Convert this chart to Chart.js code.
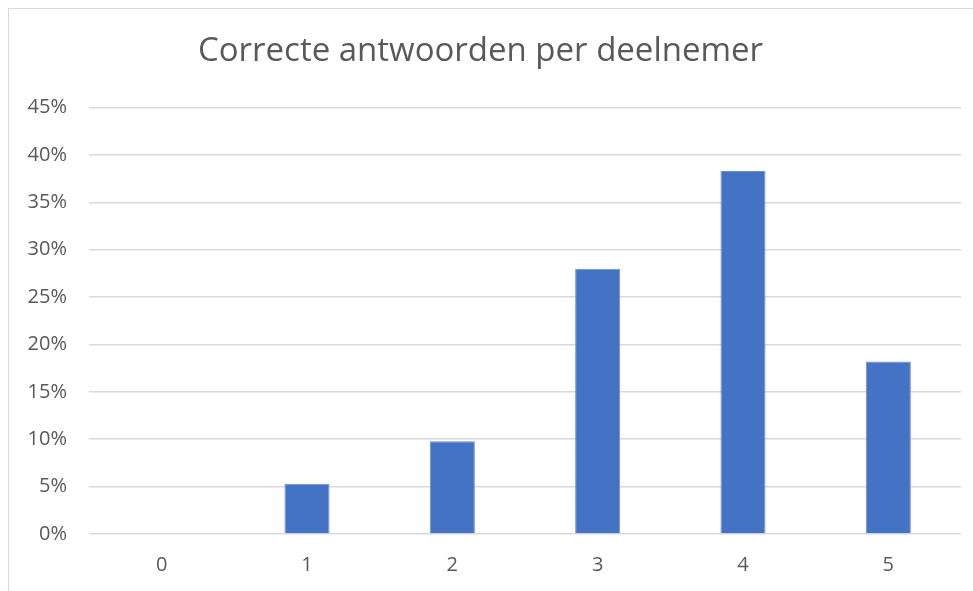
<!DOCTYPE html>
<html>
<head>
<meta charset="utf-8">
<script src="https://cdn.jsdelivr.net/npm/chart.js@4/dist/chart.umd.min.js"></script>
<style>
  html, body { margin: 0; padding: 0; background: #fff; }
  #frame { position: absolute; left: 8px; top: 8px; width: 980px; height: 600px; border: 1px solid #d9d9d9; box-sizing: border-box; }
  #wrap { position: absolute; left: 0; top: 0; width: 973px; height: 591px; }
</style>
</head>
<body>
<div id="frame"></div>
<div id="wrap"><canvas id="chart"></canvas></div>
<script>
const categories = ['0', '1', '2', '3', '4', '5'];
const percentages = [0, 5.3, 9.8, 28.0, 38.3, 18.2];
const yTicks = [0, 5, 10, 15, 20, 25, 30, 35, 40, 45];

const textColor = '#595959';
const fontFamily = '"Open Sans", "Noto Sans", sans-serif';

const ctx = document.getElementById('chart').getContext('2d');
new Chart(ctx, {
    type: 'bar',
    data: {
        labels: categories,
        datasets: [{
            label: 'Correcte antwoorden',
            data: percentages,
            backgroundColor: '#4472c4',
            borderColor: '#6b8fd0',
            borderWidth: 1,
            barPercentage: 0.31,
            categoryPercentage: 1
        }]
    },
    options: {
        responsive: true,
        maintainAspectRatio: false,
        animation: false,
        layout: { padding: { top: 14, right: 12, left: 0, bottom: 3 } },
        plugins: {
            legend: { display: false },
            tooltip: { enabled: false },
            title: {
                display: true,
                text: 'Correcte antwoorden per deelnemer',
                color: textColor,
                font: { family: fontFamily, size: 33, weight: 'normal' },
                padding: { top: 18, bottom: 36 }
            }
        },
        scales: {
            x: {
                grid: { display: false },
                border: { display: false },
                ticks: { color: textColor, font: { family: fontFamily, size: 20 }, padding: 11 }
            },
            y: {
                min: 0,
                max: 45,
                afterFit: function(scale) { scale.width = 89; },
                afterBuildTicks: function(scale) { scale.ticks = yTicks.map(v => ({ value: v })); },
                grid: { color: '#d9d9d9', lineWidth: 1.5, drawTicks: false },
                border: { display: false },
                ticks: {
                    color: textColor,
                    font: { family: fontFamily, size: 20 },
                    padding: 22,
                    callback: v => v + '%'
                }
            }
        }
    }
});
</script>
</body>
</html>
